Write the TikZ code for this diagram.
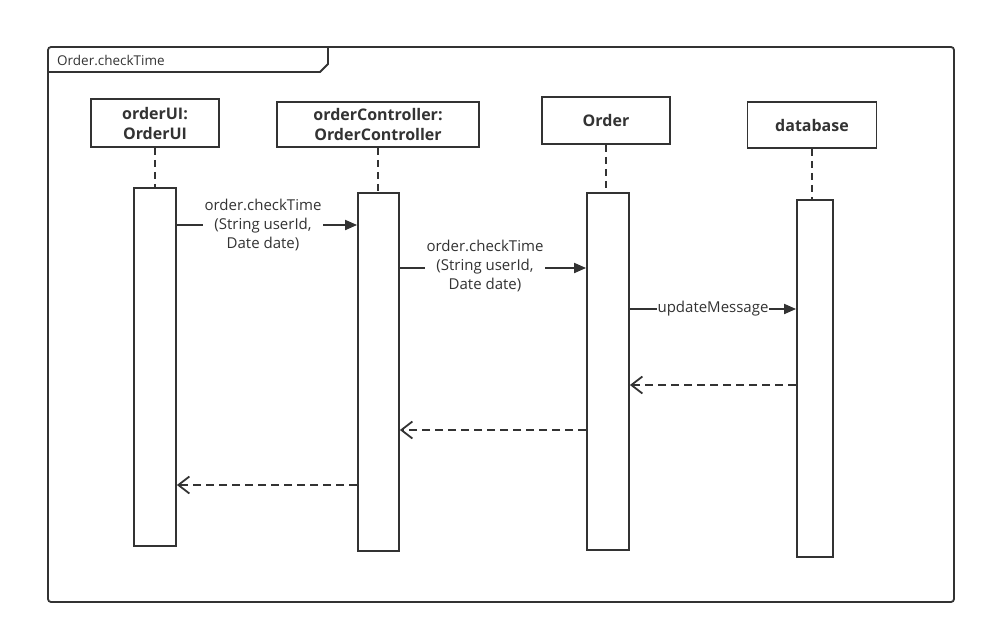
\documentclass[tikz,border=0pt]{standalone}
\usepackage{fontspec}
\setmainfont{Open Sans}
\usetikzlibrary{arrows.meta}
\definecolor{ink}{HTML}{333333}
\begin{document}
\begin{tikzpicture}[x=1pt,y=-1pt,
  every node/.style={text=ink},
  headbox/.style={draw=ink,line width=1.8pt,fill=white,inner sep=0pt,font=\bfseries\fontsize{16}{20}\selectfont,align=center},
  actbox/.style={draw=ink,line width=1.8pt,fill=white,inner sep=0pt},
  lifeline/.style={draw=ink,line width=1.8pt,dash pattern=on 7pt off 5pt},
  msg/.style={draw=ink,line width=1.8pt,-{Triangle[length=12pt,width=10pt]}},
  reply/.style={draw=ink,line width=1.8pt,dash pattern=on 8pt off 5pt,-{Straight Barb[length=11pt,width=17pt,line width=1.8pt]}},
  msglabel/.style={fill=white,inner sep=2pt,font=\fontsize{15}{19}\selectfont,align=center}]
\useasboundingbox (0,0) rectangle (986,635);

% frame with its title tab
\draw[draw=ink,line width=1.8pt,rounded corners=3pt] (48,47) rectangle (954,602);
\draw[draw=ink,line width=1.8pt] (48,72) -- (320,72) -- (328,64) -- (328,47);
\node[anchor=west,font=\fontsize{13.5}{16}\selectfont,inner sep=0pt] (frametitle) at (57,60) {Order.checkTime};

% participants
\node[headbox,minimum width=128pt,minimum height=48pt] (h1) at (155,123) {orderUI:\\OrderUI};
\node[headbox,minimum width=202pt,minimum height=45pt] (h2) at (378,124.5) {orderController:\\OrderController};
\node[headbox,minimum width=128pt,minimum height=47pt] (h3) at (606,120.5) {Order};
\node[headbox,minimum width=129pt,minimum height=46pt] (h4) at (812,125) {database};

% activation bars
\node[actbox,minimum width=42pt,minimum height=358pt] (a1) at (155,367) {};
\node[actbox,minimum width=41pt,minimum height=358pt] (a2) at (378.5,372) {};
\node[actbox,minimum width=42pt,minimum height=357pt] (a3) at (608,371.5) {};
\node[actbox,minimum width=36pt,minimum height=357pt] (a4) at (815,378.5) {};

% lifelines
\draw[lifeline] (h1.south) -- (h1.south |- a1.north);
\draw[lifeline] (h2.south) -- (h2.south |- a2.north);
\draw[lifeline] (h3.south) -- (h3.south |- a3.north);
\draw[lifeline] (h4.south) -- (h4.south |- a4.north);

% message rows
\coordinate (r1) at (0,225);
\coordinate (r2) at (0,268);
\coordinate (r3) at (0,309);
\coordinate (r4) at (0,385);
\coordinate (r5) at (0,430);
\coordinate (r6) at (0,485);

% calls
\draw[msg] (a1.east |- r1) -- node[msglabel,xshift=-4pt] {order.checkTime\\(String userId,\\Date date)} (a2.west |- r1);
\draw[msg] (a2.east |- r2) -- node[msglabel,xshift=-8pt,yshift=2pt] {order.checkTime\\(String userId,\\Date date)} (a3.west |- r2);
\draw[msg] (a3.east |- r3) -- node[msglabel,inner sep=1pt] {updateMessage} (a4.west |- r3);

% returns
\draw[reply] (a4.west |- r4) -- (a3.east |- r4);
\draw[reply] (a3.west |- r5) -- (a2.east |- r5);
\draw[reply] (a2.west |- r6) -- (a1.east |- r6);
\end{tikzpicture}
\end{document}
